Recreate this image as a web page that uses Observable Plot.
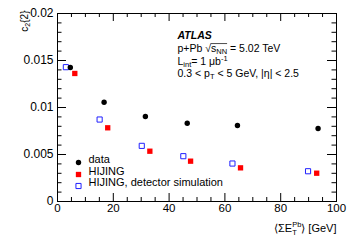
<!DOCTYPE html>
<html>
<head>
<meta charset="utf-8">
<script src="https://cdn.jsdelivr.net/npm/d3@7"></script>
<script src="https://cdn.jsdelivr.net/npm/@observablehq/plot@0.6"></script>
<style>
  html, body { margin: 0; padding: 0; background: #fff; }
  svg { font-family: "Liberation Sans", Arial, sans-serif; }
</style>
</head>
<body>
<div id="chart"></div>
<script>
// ---- data ----
const dataX   = [4.6, 16.7, 31.5, 46.5, 64.5, 93.4];
const dataY   = [0.01426, 0.01056, 0.00904, 0.00833, 0.00809, 0.00777];
const hijingX = [6.2, 18.0, 33.1, 47.7, 65.6, 92.9];
const hijingY = [0.01362, 0.00784, 0.00535, 0.00429, 0.00358, 0.00301];
const simX    = [3.0, 15.1, 30.2, 45.1, 62.7, 89.8];
const simY    = [0.01429, 0.00872, 0.00592, 0.00482, 0.00404, 0.00322];

const xMajor = [0, 20, 40, 60, 80, 100];
const xMinor = [5, 10, 15, 25, 30, 35, 45, 50, 55, 65, 70, 75, 85, 90, 95];
const yMajor = [0, 0.005, 0.01, 0.015, 0.02];
const yMinor = [0.001, 0.002, 0.003, 0.004, 0.006, 0.007, 0.008, 0.009,
                0.011, 0.012, 0.013, 0.014, 0.016, 0.017, 0.018, 0.019];

const legendLabels = ["data", "HIJING", "HIJING, detector simulation"];
const annotations = ["ATLAS", "p+Pb √sNN = 5.02 TeV", "Lint= 1 μb-1", "0.3 < pT < 5 GeV, |η| < 2.5"];
const xTitle = "⟨ΣE T Pb⟩ [GeV]";
const yTitle = "c2{2}";

// ---- layout ----
const W = 354, H = 240;
const mL = 57, mR = 18, mT = 13, mB = 39;
const PW = W - mL - mR, PH = H - mT - mB;

const toRows = (xs, ys) => xs.map((x, i) => ({x, y: ys[i]}));
const dataRows = toRows(dataX, dataY);
const hijingRows = toRows(hijingX, hijingY);
const simRows = toRows(simX, simY);

const legendStyles = [
  {symbol: "circle", fill: "black", stroke: "none", r: 2.7},
  {symbol: "square", fill: "#ff0000", stroke: "none", r: 3.0},
  {symbol: "square", fill: "white", stroke: "#2020ff", r: 2.9}
];
const legendDy = [-39, -27, -15.5];
const annDy = [18.1, 31.1, 43.6, 56.1];

const marks = [
  Plot.frame({stroke: "black", strokeWidth: 1}),
  // ticks inside the frame (ROOT style), all four sides
  Plot.tickX(xMajor, {x: d => d, insetTop: PH - 8}),
  Plot.tickX(xMinor, {x: d => d, insetTop: PH - 4}),
  Plot.tickX(xMajor, {x: d => d, insetBottom: PH - 8}),
  Plot.tickX(xMinor, {x: d => d, insetBottom: PH - 4}),
  Plot.tickY(yMajor, {y: d => d, insetRight: PW - 9}),
  Plot.tickY(yMinor, {y: d => d, insetRight: PW - 4.5}),
  Plot.tickY(yMajor, {y: d => d, insetLeft: PW - 9}),
  Plot.tickY(yMinor, {y: d => d, insetLeft: PW - 4.5}),
  Plot.axisX({ticks: xMajor, tickSize: 0, tickPadding: 2, tickFormat: d => String(d), label: null, fontSize: 11.5}),
  Plot.axisY({ticks: yMajor, tickSize: 0, tickPadding: 4, tickFormat: d => String(d), label: null, fontSize: 12}),
  // series
  Plot.dot(simRows, {x: "x", y: "y", symbol: "square", r: 2.9, fill: "white", stroke: "#2020ff", strokeWidth: 1}),
  Plot.dot(hijingRows, {x: "x", y: "y", symbol: "square", r: 3.0, fill: "#ff0000"}),
  Plot.dot(dataRows, {x: "x", y: "y", symbol: "circle", r: 2.7, fill: "black"}),
  // axis titles
  Plot.text([xTitle], {text: d => d, frameAnchor: "bottom-right", textAnchor: "end", dy: 30.5, fontSize: 11}),
  Plot.text([yTitle], {text: d => d, frameAnchor: "top-left", textAnchor: "end", rotate: -90, dx: -37, dy: -3, fontSize: 10})
];

legendLabels.forEach((label, i) => {
  const s = legendStyles[i];
  marks.push(Plot.dot([label], {frameAnchor: "bottom-left", dx: 21, dy: legendDy[i], symbol: s.symbol, r: s.r, fill: s.fill, stroke: s.stroke, strokeWidth: 1}));
  marks.push(Plot.text([label], {text: d => d, frameAnchor: "bottom-left", textAnchor: "start", dx: 31, dy: legendDy[i], fontSize: 11}));
});

annotations.forEach((a, i) => {
  marks.push(Plot.text([a], {text: d => d, frameAnchor: "top-left", textAnchor: "start", dx: 120, dy: annDy[i], fontSize: 10.5,
    fontWeight: i === 0 ? "bold" : "normal", fontStyle: i === 0 ? "italic" : "normal"}));
});

const chart = Plot.plot({
  width: W, height: H,
  marginLeft: mL, marginRight: mR, marginTop: mT, marginBottom: mB,
  style: {fontFamily: '"Liberation Sans", Arial, sans-serif', fontSize: "12px", color: "black", background: "white"},
  x: {domain: [0, 100]},
  y: {domain: [0, 0.02]},
  marks
});
document.getElementById("chart").appendChild(chart);

// rich text (sub/superscripts) for the labels
const rich = {
  [annotations[1]]: 'p+Pb √<tspan class="root">s<tspan font-size="7.5" dy="2">NN</tspan></tspan><tspan dy="-2"> = 5.02 TeV</tspan>',
  [annotations[2]]: 'L<tspan font-size="7.5" dy="2">int</tspan><tspan dy="-2">= 1 μb</tspan><tspan font-size="7.5" dy="-4">-1</tspan>',
  [annotations[3]]: '0.3 &lt; p<tspan font-size="7.5" dy="2">T</tspan><tspan dy="-2"> &lt; 5 GeV, |η| &lt; 2.5</tspan>',
  [xTitle]: '⟨ΣE<tspan font-size="7.5" dy="3">T</tspan><tspan font-size="7.5" dx="-4.6" dy="-8">Pb</tspan><tspan dy="5">⟩ [GeV]</tspan>',
  [yTitle]: 'c<tspan font-size="7" dy="2">2</tspan><tspan dy="-2">{2}</tspan>'
};
d3.select(chart).selectAll("text").each(function() {
  const t = this.textContent;
  if (rich[t] !== undefined) this.innerHTML = rich[t];
});
// roof of the square-root sign over s_NN
d3.select(chart).selectAll("tspan.root").each(function() {
  const text = this.parentNode;
  const bb = this.getBBox();
  const line = document.createElementNS("http://www.w3.org/2000/svg", "line");
  const tr = text.getAttribute("transform");
  if (tr) line.setAttribute("transform", tr);
  line.setAttribute("x1", bb.x - 0.5);
  line.setAttribute("x2", bb.x + bb.width);
  line.setAttribute("y1", bb.y + 1.5);
  line.setAttribute("y2", bb.y + 1.5);
  line.setAttribute("stroke", "black");
  line.setAttribute("stroke-width", 0.7);
  text.parentNode.appendChild(line);
});
</script>
</body>
</html>
